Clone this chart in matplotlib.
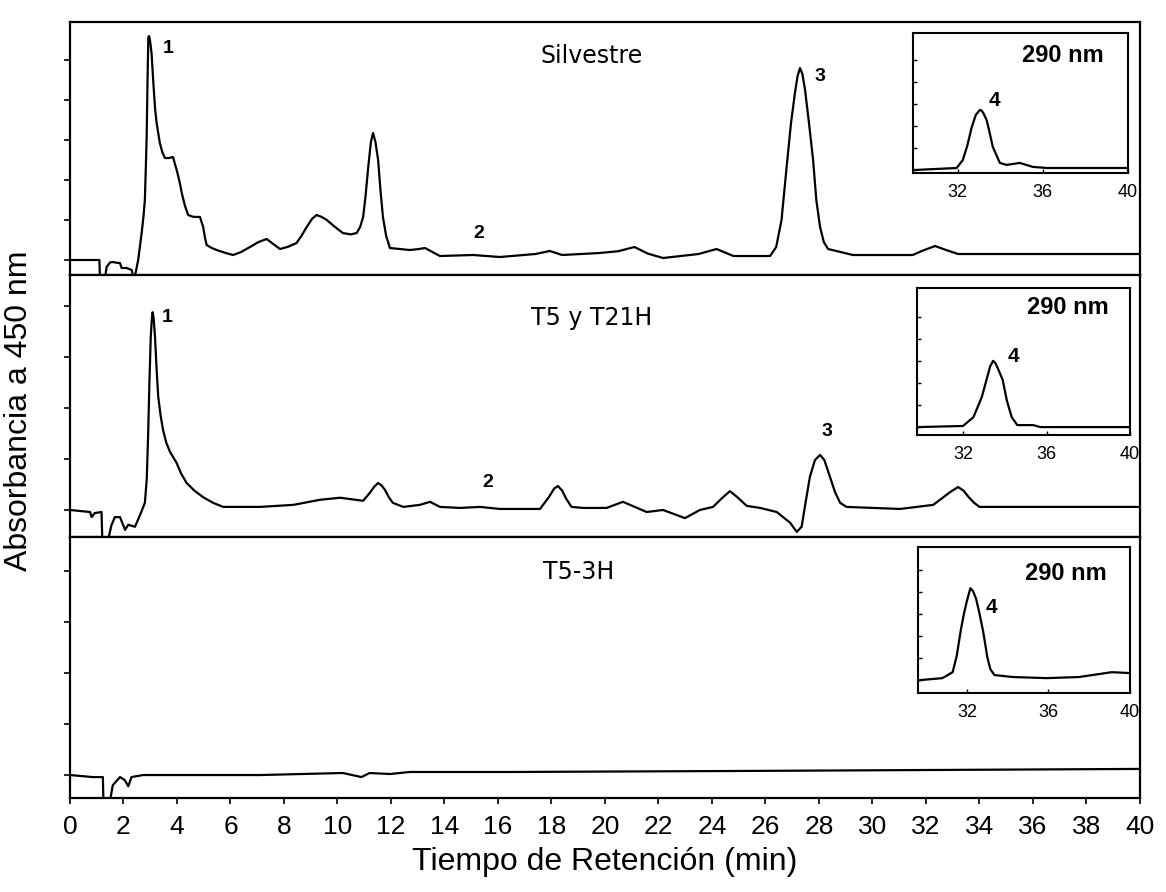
import matplotlib
matplotlib.use("Agg")
import matplotlib.pyplot as plt

plt.rcParams["font.family"] = ["Liberation Sans", "DejaVu Sans"]

# main chromatograms, 450 nm (time in min, absorbance in arbitrary units)
silv_t = [0.0, 1.10, 1.12, 1.31, 1.37, 1.50, 1.62, 1.75, 1.87, 1.93, 2.12, 2.31, 2.37,
          2.43, 2.55, 2.68, 2.75, 2.80, 2.84, 2.87, 2.90, 2.93, 2.96, 3.00, 3.05,
          3.12, 3.18, 3.24, 3.36, 3.45, 3.55, 3.70, 3.85, 3.99, 4.10, 4.18, 4.30,
          4.42, 4.60, 4.86, 4.98, 5.05, 5.11, 5.30, 5.48, 5.80, 6.10, 6.40, 6.73,
          7.05, 7.35, 7.60, 7.85, 8.15, 8.47, 8.65, 8.85, 9.05, 9.22, 9.40, 9.60,
          9.90, 10.2, 10.5, 10.72, 10.85, 10.96, 11.05, 11.15, 11.25, 11.33, 11.42,
          11.52, 11.60, 11.70, 11.82, 11.96, 12.7, 13.0, 13.27, 13.55, 13.83, 15.07,
          16.07, 17.4, 17.94, 18.4, 19.8, 20.5, 21.1, 21.6, 22.17, 23.5, 24.17, 24.8,
          26.17, 26.4, 26.6, 26.79, 26.95, 27.1, 27.2, 27.29, 27.38, 27.48, 27.63,
          27.78, 27.9, 28.04, 28.18, 28.34, 29.27, 31.5, 31.9, 32.34, 32.75, 33.2, 40.0]
silv_a = [0.0, 0.0, -4.5, -4.5, -1.75, -0.6, -0.5, -0.7, -0.75, -2.0, -2.0, -2.5, -4.5,
          -4.0, 0.0, 6.75, 11.0, 15.0, 24.0, 31.75, 45.0, 55.75, 56.0, 54.5, 51.75,
          44.0, 38.0, 34.25, 29.25, 27.0, 25.5, 25.5, 25.75, 22.5, 19.5, 16.75, 13.5,
          11.25, 10.8, 10.75, 8.25, 5.5, 3.75, 3.0, 2.5, 1.8, 1.25, 2.0, 3.25,
          4.5, 5.25, 4.0, 2.75, 3.3, 4.25, 6.0, 8.25, 10.3, 11.25, 10.8, 10.0,
          8.3, 6.75, 6.4, 6.75, 8.3, 10.75, 16.0, 23.25, 29.5, 31.75, 29.5,
          25.0, 18.0, 10.75, 6.0, 3.0, 2.5, 2.7, 3.0, 2.0, 1.0, 1.25,
          0.75, 1.5, 2.25, 1.25, 1.75, 2.2, 3.25, 1.6, 0.5, 1.5, 2.75, 1.0,
          1.0, 3.25, 10.0, 23.25, 34.0, 41.75, 46.0, 48.0, 46.5, 42.5, 34.0,
          25.0, 15.0, 8.25, 4.5, 2.75, 1.25, 1.25, 2.4, 3.5, 2.5, 1.5, 1.5]

t5_t = [0.0, 0.75, 0.81, 0.93, 1.18, 1.21, 1.42, 1.55, 1.68, 1.87, 2.06, 2.18, 2.43,
        2.62, 2.80, 2.87, 2.92, 2.97, 3.02, 3.06, 3.09, 3.13, 3.18, 3.24, 3.30, 3.39,
        3.48, 3.60, 3.74, 3.99, 4.15, 4.36, 4.65, 4.98, 5.35, 5.73,
        7.1, 8.35, 9.35, 10.1, 10.96, 11.2, 11.38, 11.52, 11.65, 11.78, 11.92, 12.07,
        12.46, 13.08, 13.46, 13.83, 14.58, 15.33, 16.07, 17.57, 17.9, 18.1, 18.24,
        18.4, 18.55, 18.75, 19.18, 20.06, 20.67, 21.56, 22.17, 22.99, 23.55, 24.04,
        24.35, 24.67, 24.95, 25.3, 25.8, 26.42, 26.92, 27.17, 27.35, 27.5, 27.66,
        27.85, 28.04, 28.2, 28.41, 28.6, 28.79, 29.03, 31.03, 32.27, 32.6, 32.9,
        33.2, 33.4, 33.6, 33.8, 34.0, 40.0]
t5_a = [0.0, -0.4, -1.4, -0.6, -0.4, -6.0, -6.0, -3.0, -1.4, -1.4, -3.9, -2.9, -3.3,
        -1.0, 1.4, 6.0, 14.3, 25.0, 33.9, 37.5, 38.8, 37.5, 33.9, 27.5, 22.2, 18.5,
        15.7, 13.2, 11.4, 9.2, 7.2, 5.3, 3.8, 2.5, 1.4, 0.6,
        0.6, 1.0, 2.0, 2.4, 1.8, 3.3, 4.6, 5.3, 4.8, 3.9, 2.5, 1.4,
        0.6, 1.0, 1.6, 0.6, 0.4, 0.6, 0.2, 0.2, 2.5, 4.2, 4.7,
        3.8, 2.2, 0.6, 0.4, 0.4, 1.6, -0.4, 0.0, -1.6, 0.0, 0.6,
        2.2, 3.7, 2.5, 0.8, 0.4, -0.4, -2.5, -4.3, -3.3, 1.5, 6.5,
        9.8, 10.8, 9.8, 6.5, 3.5, 1.4, 0.6, 0.2, 1.0, 2.3, 3.5,
        4.5, 3.8, 2.5, 1.4, 0.6, 0.6]

t53_t = [0.0, 0.86, 1.23, 1.25, 1.50, 1.60, 1.87, 2.05, 2.18, 2.30, 2.73, 7.1, 10.2,
         10.9, 11.2, 11.96, 12.7, 16.45, 25.0, 40.0]
t53_a = [0.0, -0.4, -0.4, -5.0, -5.0, -2.0, -0.4, -1.0, -2.2, -0.4, 0.0, 0.0, 0.4,
         -0.4, 0.4, 0.2, 0.6, 0.6, 0.8, 1.2]

# insets, 290 nm
ins1_t = [30.0, 31.95, 32.24, 32.45, 32.66, 32.85, 33.04, 33.12, 33.2, 33.36, 33.5,
          33.65, 33.98, 34.3, 34.92, 35.53, 36.19, 40.0]
ins1_a = [0.0, 0.09, 0.45, 1.1, 1.95, 2.5, 2.73, 2.7, 2.6, 2.27, 1.7,
          1.05, 0.32, 0.23, 0.32, 0.14, 0.09, 0.09]
ins2_t = [29.85, 32.0, 32.5, 32.9, 33.2, 33.3, 33.44, 33.55, 33.65, 33.9, 34.1,
          34.33, 34.6, 35.36, 35.7, 40.0]
ins2_a = [0.0, 0.05, 0.45, 1.36, 2.4, 2.75, 3.0, 2.9, 2.7, 2.14, 1.2,
          0.45, 0.09, 0.09, 0.0, 0.0]
ins3_t = [29.7, 30.8, 31.3, 31.5, 31.7, 31.85, 32.0, 32.17, 32.3, 32.45, 32.6, 32.8,
          33.0, 33.15, 33.35, 34.25, 35.9, 37.5, 39.1, 40.0]
ins3_a = [0.0, 0.09, 0.36, 1.1, 2.27, 3.0, 3.6, 4.18, 4.05, 3.7, 3.1, 2.2,
          1.05, 0.5, 0.23, 0.14, 0.09, 0.14, 0.36, 0.32]

x_ticks = list(range(0, 41, 2))
inset_ticks = [32, 36, 40]

fig = plt.figure(figsize=(11.66, 8.92), dpi=100)

left, width = 0.060, 0.9177
panels = [
    ([left, 0.6917, width, 0.2836], silv_t, silv_a, (-3.75, 59.5), range(0, 51, 10)),
    ([left, 0.3980, width, 0.2937], t5_t, t5_a, (-5.3, 46.1), range(0, 41, 10)),
    ([left, 0.1054, width, 0.2926], t53_t, t53_a, (-4.5, 46.7), range(0, 41, 10)),
]

axes = []
for rect, t, a, ylim, yt in panels:
    ax = fig.add_axes(rect)
    ax.plot(t, a, color="black", lw=1.6)
    ax.set_xlim(0, 40)
    ax.set_ylim(*ylim)
    ax.set_xticks(x_ticks)
    ax.set_yticks(list(yt))
    ax.set_yticklabels([])
    ax.tick_params(axis="both", direction="out", length=4, width=1.2)
    for s in ax.spines.values():
        s.set_linewidth(1.6)
    axes.append(ax)

for ax in axes[:2]:
    ax.set_xticklabels([])
axes[2].tick_params(axis="x", labelsize=19, pad=8)

bold = dict(fontsize=14, fontweight="bold", ha="center", va="center")
title = dict(fontsize=17, family="DejaVu Sans", ha="center", va="center")

axes[0].text(3.66, 53, "1", **bold)
axes[0].text(15.3, 6.75, "2", **bold)
axes[0].text(28.04, 46, "3", **bold)
axes[0].text(19.5, 51, "Silvestre", **title)

axes[1].text(3.63, 37.8, "1", **bold)
axes[1].text(15.6, 5.3, "2", **bold)
axes[1].text(28.3, 15.3, "3", **bold)
axes[1].text(19.5, 37.6, "T5 y T21H", **title)

axes[2].text(19.0, 39.8, "T5-3H", **title)

axes[2].set_xlabel("Tiempo de Retención (min)", fontsize=23, labelpad=6)
fig.text(0.016, 0.54, "Absorbancia a 450 nm", rotation=90, fontsize=23,
         ha="center", va="center")

insets = [
    ([0.7830, 0.8060, 0.1844, 0.1570], ins1_t, ins1_a, (29.9, 40), (-0.14, 6.23),
     (36.94, 5.2), (33.74, 3.18)),
    ([0.7865, 0.5123, 0.1827, 0.1648], ins2_t, ins2_a, (29.8, 40), (-0.36, 6.3),
     (37.0, 5.4), (34.4, 3.18)),
    ([0.7873, 0.2230, 0.1818, 0.1637], ins3_t, ins3_a, (29.6, 40), (-0.59, 6.05),
     (36.87, 4.86), (33.2, 3.3)),
]

for rect, t, a, xlim, ylim, nm_pos, pk_pos in insets:
    ins = fig.add_axes(rect)
    ins.plot(t, a, color="black", lw=1.6)
    ins.set_xlim(*xlim)
    ins.set_ylim(*ylim)
    ins.set_xticks(inset_ticks)
    ins.set_yticks([0, 1, 2, 3, 4, 5])
    ins.set_yticklabels([])
    ins.tick_params(axis="both", direction="in", length=3, width=1.0)
    ins.tick_params(axis="x", labelsize=13, pad=8)
    for s in ins.spines.values():
        s.set_linewidth(1.5)
    ins.text(*nm_pos, "290 nm", fontsize=17, fontweight="bold", ha="center", va="center")
    ins.text(*pk_pos, "4", fontsize=15, fontweight="bold", ha="center", va="center")

fig.savefig("out.png", dpi=100)
